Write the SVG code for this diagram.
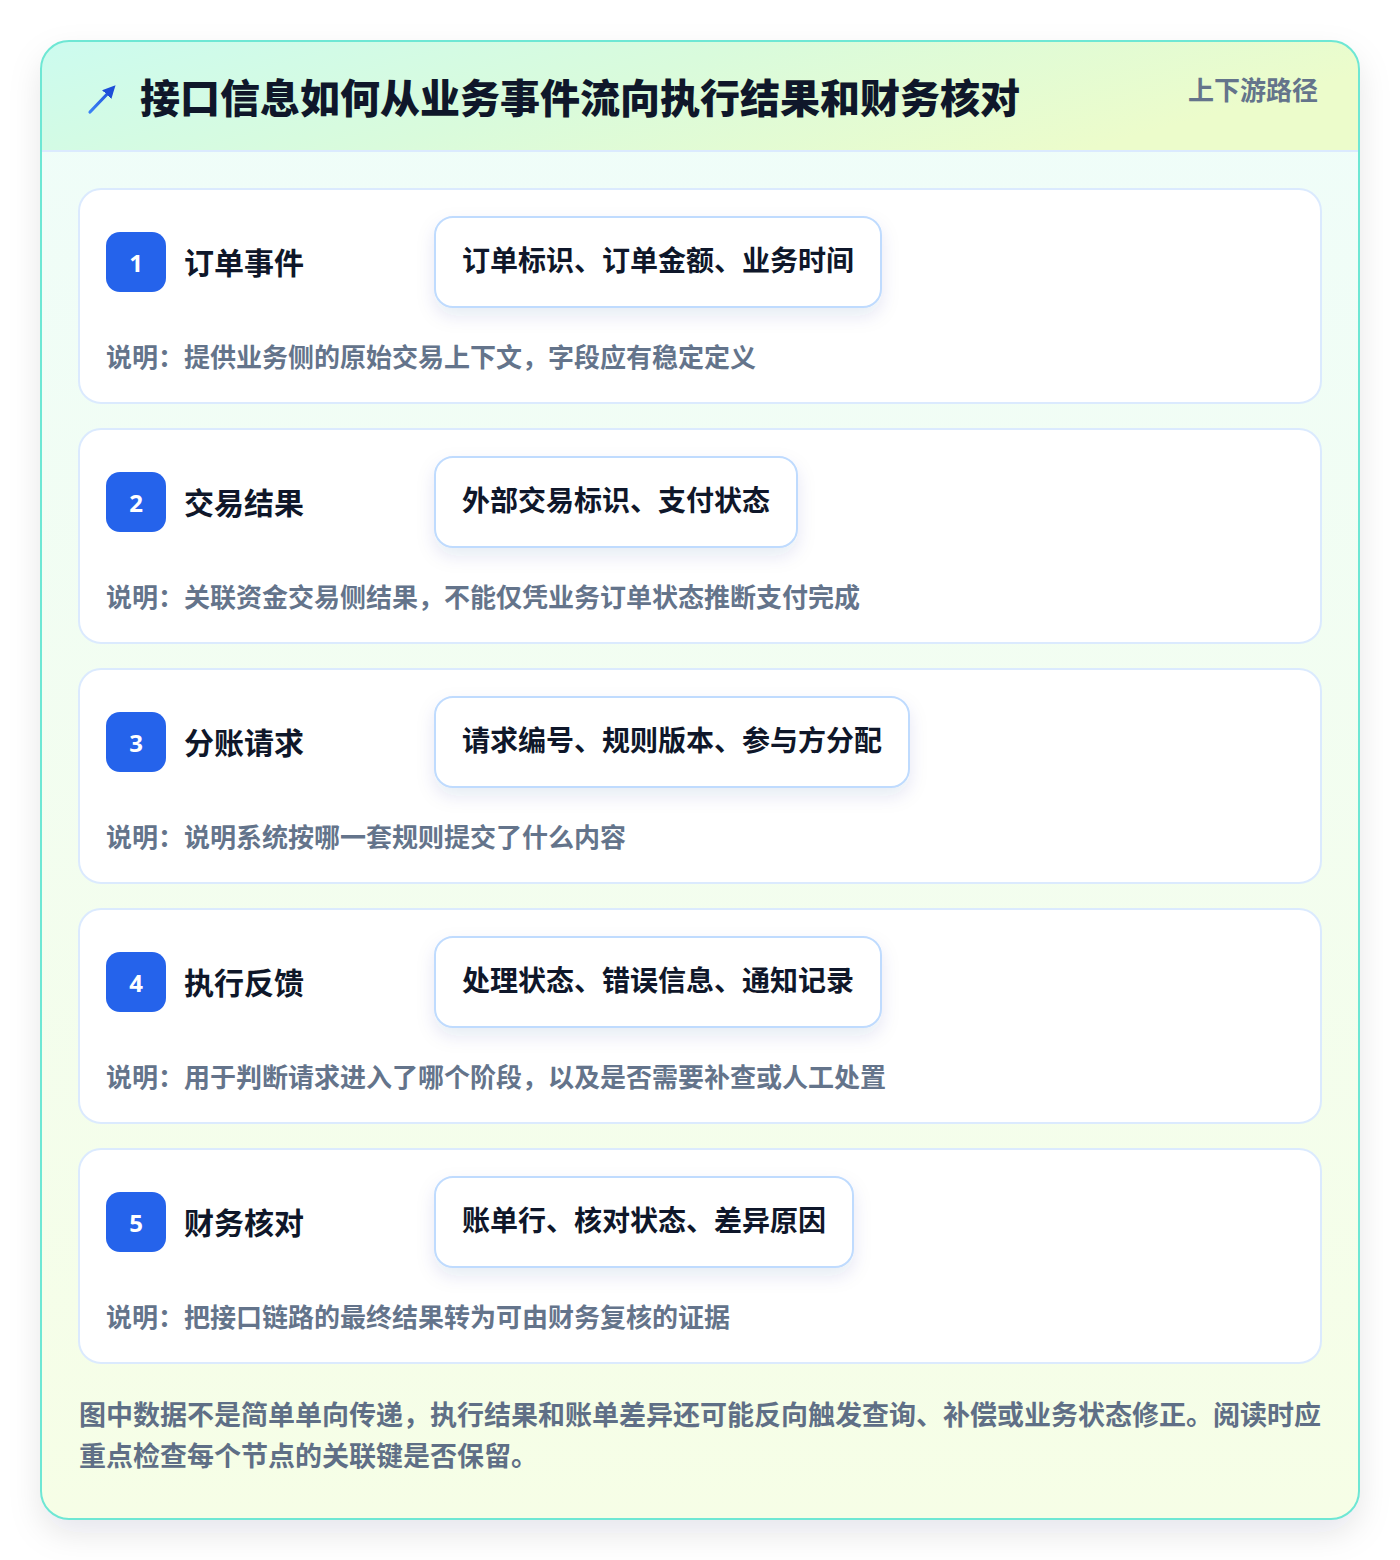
<svg xmlns="http://www.w3.org/2000/svg" width="1400" height="1560" viewBox="0 0 1400 1560">
<defs>
<linearGradient id="hdr" x1="0" y1="0" x2="1" y2="0.3">
<stop offset="0" stop-color="#ccfbef"/>
<stop offset="0.5" stop-color="#d9fbdc"/>
<stop offset="1" stop-color="#ecfccb"/>
</linearGradient>
<linearGradient id="body" x1="0" y1="0" x2="0" y2="1">
<stop offset="0" stop-color="#effdfa"/>
<stop offset="1" stop-color="#f6fee6"/>
</linearGradient>
<linearGradient id="arr" x1="0" y1="1" x2="1" y2="0">
<stop offset="0" stop-color="#3b82f6"/>
<stop offset="1" stop-color="#1d4ed8"/>
</linearGradient>
<clipPath id="outerClip"><rect x="41" y="41" width="1318" height="1478" rx="28"/></clipPath>
<filter id="outerShadow" x="-10%" y="-10%" width="120%" height="120%">
<feDropShadow dx="0" dy="14" stdDeviation="16" flood-color="#0f172a" flood-opacity="0.10"/>
</filter>
<filter id="pillShadow" x="-20%" y="-40%" width="140%" height="200%">
<feDropShadow dx="0" dy="8" stdDeviation="9" flood-color="#1e3a8a" flood-opacity="0.10"/>
</filter>
<marker id="ah" viewBox="0 0 10 10" refX="6" refY="5" markerWidth="4" markerHeight="4" orient="auto">
<path d="M0,0 L10,5 L0,10 z" fill="#1d4ed8"/>
</marker>
</defs>
<style>
.cjk{font-family:"Noto Sans CJK SC","Noto Sans",sans-serif;font-weight:700}
.title{font-size:40px;fill:#0f172a;font-weight:900}
.tag{font-size:26px;fill:#64748b}
.card{fill:#ffffff;stroke:#dbeafe;stroke-width:2}
.badge{fill:#2563eb}
.num{font-family:"Noto Sans","DejaVu Sans",sans-serif;font-weight:700;font-size:24px;fill:#ffffff}
.name{font-size:30px;fill:#0f172a}
.pill{fill:#ffffff;stroke:#bfdbfe;stroke-width:2}
.field{font-size:28px;fill:#0f172a}
.note{font-size:26px;fill:#64748b}
.foot{font-size:27px;fill:#5f6f86}
</style>
<rect x="0" y="0" width="1400" height="1560" fill="#ffffff"/>
<g id="frame">
<rect x="41" y="41" width="1318" height="1478" rx="28" fill="url(#body)" filter="url(#outerShadow)"/>
<g clip-path="url(#outerClip)">
<rect x="41" y="41" width="1318" height="110" fill="url(#hdr)"/>
<line x1="41" y1="151" x2="1359" y2="151" stroke="#dbeafe" stroke-width="2"/>
</g>
<rect x="41" y="41" width="1318" height="1478" rx="28" fill="none" stroke="#6ee7d4" stroke-width="2"/>
</g>
<g id="header">
<line x1="90" y1="112" x2="112" y2="89" stroke="url(#arr)" stroke-width="3.2" stroke-linecap="round" marker-end="url(#ah)"/>
<text class="cjk title" x="140" y="96" dominant-baseline="central">接口信息如何从业务事件流向执行结果和财务核对</text>
<text class="cjk tag" x="1318" y="88" text-anchor="end" dominant-baseline="central">上下游路径</text>
</g>
<g id="node1">
<rect class="card" x="79" y="189" width="1242" height="214" rx="22"/>
<rect class="badge" x="106" y="232" width="60" height="60" rx="14"/>
<text class="num" x="136" y="262" text-anchor="middle" dominant-baseline="central">1</text>
<text class="cjk name" x="184" y="261" dominant-baseline="central">订单事件</text>
<rect class="pill" x="435" y="217" width="446" height="90" rx="18" filter="url(#pillShadow)"/>
<text class="cjk field" x="462" y="259" dominant-baseline="central">订单标识、订单金额、业务时间</text>
<text class="cjk note" x="106" y="355" dominant-baseline="central">说明：提供业务侧的原始交易上下文，字段应有稳定定义</text>
</g>
<g id="node2">
<rect class="card" x="79" y="429" width="1242" height="214" rx="22"/>
<rect class="badge" x="106" y="472" width="60" height="60" rx="14"/>
<text class="num" x="136" y="502" text-anchor="middle" dominant-baseline="central">2</text>
<text class="cjk name" x="184" y="501" dominant-baseline="central">交易结果</text>
<rect class="pill" x="435" y="457" width="362" height="90" rx="18" filter="url(#pillShadow)"/>
<text class="cjk field" x="462" y="499" dominant-baseline="central">外部交易标识、支付状态</text>
<text class="cjk note" x="106" y="595" dominant-baseline="central">说明：关联资金交易侧结果，不能仅凭业务订单状态推断支付完成</text>
</g>
<g id="node3">
<rect class="card" x="79" y="669" width="1242" height="214" rx="22"/>
<rect class="badge" x="106" y="712" width="60" height="60" rx="14"/>
<text class="num" x="136" y="742" text-anchor="middle" dominant-baseline="central">3</text>
<text class="cjk name" x="184" y="741" dominant-baseline="central">分账请求</text>
<rect class="pill" x="435" y="697" width="474" height="90" rx="18" filter="url(#pillShadow)"/>
<text class="cjk field" x="462" y="739" dominant-baseline="central">请求编号、规则版本、参与方分配</text>
<text class="cjk note" x="106" y="835" dominant-baseline="central">说明：说明系统按哪一套规则提交了什么内容</text>
</g>
<g id="node4">
<rect class="card" x="79" y="909" width="1242" height="214" rx="22"/>
<rect class="badge" x="106" y="952" width="60" height="60" rx="14"/>
<text class="num" x="136" y="982" text-anchor="middle" dominant-baseline="central">4</text>
<text class="cjk name" x="184" y="981" dominant-baseline="central">执行反馈</text>
<rect class="pill" x="435" y="937" width="446" height="90" rx="18" filter="url(#pillShadow)"/>
<text class="cjk field" x="462" y="979" dominant-baseline="central">处理状态、错误信息、通知记录</text>
<text class="cjk note" x="106" y="1075" dominant-baseline="central">说明：用于判断请求进入了哪个阶段，以及是否需要补查或人工处置</text>
</g>
<g id="node5">
<rect class="card" x="79" y="1149" width="1242" height="214" rx="22"/>
<rect class="badge" x="106" y="1192" width="60" height="60" rx="14"/>
<text class="num" x="136" y="1222" text-anchor="middle" dominant-baseline="central">5</text>
<text class="cjk name" x="184" y="1221" dominant-baseline="central">财务核对</text>
<rect class="pill" x="435" y="1177" width="418" height="90" rx="18" filter="url(#pillShadow)"/>
<text class="cjk field" x="462" y="1219" dominant-baseline="central">账单行、核对状态、差异原因</text>
<text class="cjk note" x="106" y="1315" dominant-baseline="central">说明：把接口链路的最终结果转为可由财务复核的证据</text>
</g>
<g id="connectors"></g>
<g id="footer">
<text class="cjk foot" x="79" y="1413" dominant-baseline="central">图中数据不是简单单向传递，执行结果和账单差异还可能反向触发查询、补偿或业务状态修正。阅读时应</text>
<text class="cjk foot" x="79" y="1454" dominant-baseline="central">重点检查每个节点的关联键是否保留。</text>
</g>
</svg>
